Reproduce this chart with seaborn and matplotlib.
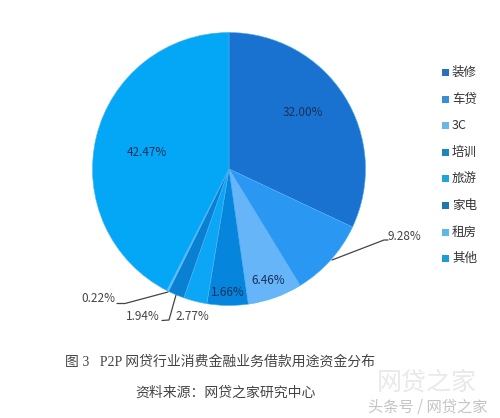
import matplotlib
matplotlib.use('Agg')
import matplotlib.pyplot as plt
from matplotlib.patches import Rectangle
import seaborn as sns

categories = ['装修', '车贷', '3C', '培训', '旅游', '家电', '租房', '其他']
wedge_sizes = [32.00, 9.28, 6.46, 4.86, 2.77, 1.94, 0.22, 42.47]
value_labels = ['32.00%', '9.28%', '6.46%', '1.66%', '2.77%', '1.94%', '0.22%', '42.47%']
pie_colors = ['#1a72d0', '#2a97f3', '#66b5f8', '#0585dc', '#0ca6f6', '#0a80d2', '#62c4fa', '#03a7f6']
legend_colors = ['#2a72b8', '#3590d8', '#6cb4e4', '#1f84b8', '#1fa4dc', '#1f78ae', '#5cb8e4', '#1f9cd8']

sns.set_theme(style='white')
plt.rcParams['font.family'] = ['Noto Sans CJK SC', 'DejaVu Sans']

fig = plt.figure(figsize=(5, 4.18), dpi=100)
ax = fig.add_axes([0, 0, 1, 1])

# y axis is flipped below, so start at -90 to land on top and run clockwise on screen
ax.pie(wedge_sizes, colors=pie_colors, center=(229, 169), radius=136.5, startangle=-90,
       counterclock=True, wedgeprops={'linewidth': 0.4, 'edgecolor': '#4fb2f2'}, frame=True)
ax.set_xlim(0, 500)
ax.set_ylim(418, 0)
ax.axis('off')

inner_c = '#1a2f5a'
outer_c = '#444444'
ax.text(303, 113, value_labels[0], fontsize=8.5, color=inner_c, ha='center', va='center')
ax.text(404, 237, value_labels[1], fontsize=8.5, color=outer_c, ha='center', va='center')
ax.text(268, 281, value_labels[2], fontsize=8.5, color=inner_c, ha='center', va='center')
ax.text(228, 292, value_labels[3], fontsize=8.5, color=inner_c, ha='center', va='center')
ax.text(192, 317, value_labels[4], fontsize=8.5, color=outer_c, ha='center', va='center')
ax.text(143, 317, value_labels[5], fontsize=8.5, color=outer_c, ha='center', va='center')
ax.text(98, 299, value_labels[6], fontsize=8.5, color=outer_c, ha='center', va='center')
ax.text(147, 152, value_labels[7], fontsize=8.5, color=inner_c, ha='center', va='center')

# leader lines
ax.plot([332, 384, 388], [260, 240, 240], color='#444444', lw=0.9)
ax.plot([117, 125, 168], [303.5, 303.5, 292], color='#444444', lw=0.9)
ax.plot([162, 169, 176], [320.5, 320, 295], color='#444444', lw=0.9)

# legend
for i, (name, col) in enumerate(zip(categories, legend_colors)):
    y = 72.5 + i * 26.6
    ax.add_patch(Rectangle((442, y - 3.5), 7, 7, color=col, lw=0))
    ax.text(452, y, name, fontsize=9, color='#333333', ha='left', va='center')

caption_font = ['Liberation Serif', 'Noto Sans CJK SC']
ax.text(220, 362, '图 3   P2P 网贷行业消费金融业务借款用途资金分布', fontsize=10, color='#444444',
        ha='center', va='center', family=caption_font)
ax.text(226, 393, '资料来源：网贷之家研究中心', fontsize=10, color='#444444', ha='center', va='center',
        family=caption_font)

# watermark
ax.text(427, 383, '网贷之家', fontsize=18, color='#e9e9e9', ha='center', va='center')
ax.text(428, 407, '头条号 / 网贷之家', fontsize=11, color='#c4c4c4', ha='center', va='center')

fig.savefig('out.png', dpi=100)
